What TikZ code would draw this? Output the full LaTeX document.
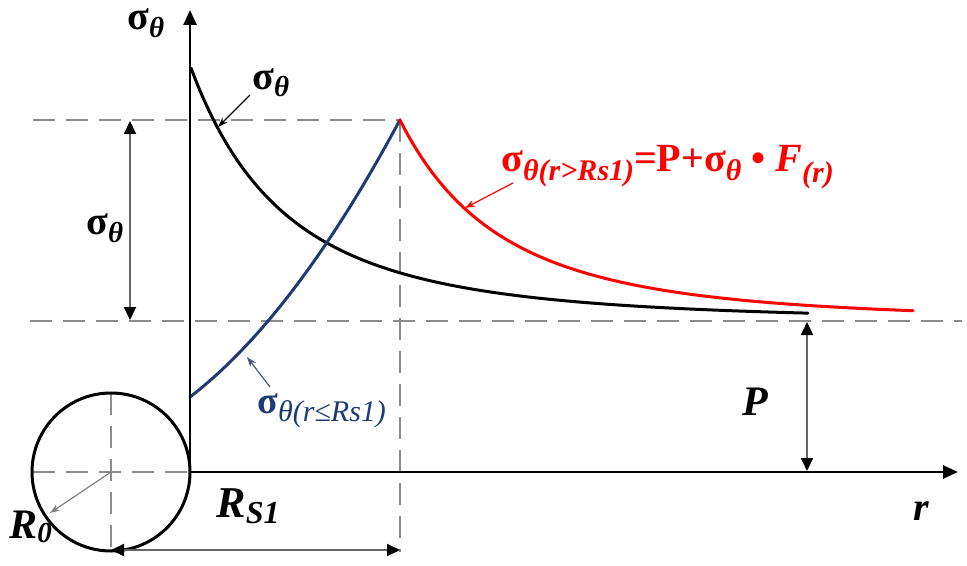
\documentclass[tikz,border=0pt]{standalone}
\usepackage{fontspec}
\setmainfont{Liberation Serif}
\usetikzlibrary{arrows.meta}
\definecolor{navy}{HTML}{1F3B73}
\definecolor{navyarrow}{HTML}{4A5A7A}
\definecolor{dashgray}{HTML}{8C8C8C}
\newcommand{\myfs}[1]{\fontsize{#1}{#1}\selectfont}
\begin{document}
\begin{tikzpicture}[x=0.5pt,y=-0.5pt,
  axis/.style={line width=1.25pt, -{Triangle[length=7.5pt,width=6.5pt]}},
  dim/.style={line width=1pt, draw=black!60, {Triangle[length=6.5pt,width=6pt,color=black]}-{Triangle[length=6.5pt,width=6pt,color=black]}},
  guide/.style={draw=dashgray, line width=1pt, dash pattern=on 11pt off 5.5pt},
  curve/.style={line width=1.5pt, line join=round, line cap=round},
  ptr/.style={line width=0.6pt, -{Stealth[length=5pt,width=3.5pt]}},
  lbl/.style={inner sep=0pt, anchor=base west, font=\bfseries}]
\useasboundingbox (0,0) rectangle (967,566);

% coordinates
\coordinate (O) at (190,472);
\coordinate (Ytop) at (190,10);
\coordinate (Xend) at (958,472);
\coordinate (Cc) at (111,472);
\coordinate (Cl) at (33,472);
\coordinate (Ct) at (111,393);
\coordinate (Cb) at (111,551);
\coordinate (Peak) at (400,120);
\coordinate (Gl1) at (33,120);
\coordinate (Gb1) at (400,552);
\coordinate (Gl2) at (30,321);
\coordinate (Gr2) at (962,321);
\coordinate (S1) at (130,121);
\coordinate (S2) at (130,320);
\coordinate (P1) at (807,322);
\coordinate (P2) at (807,471);
\coordinate (R1) at (111,550);
\coordinate (R2) at (400,550);
\coordinate (R0t) at (50,513);

% dashed guides
\draw[guide] (Gl1) -- (Peak);
\draw[guide] (Peak) -- (Gb1);
\draw[guide] (Gl2) -- (Gr2);
\draw[guide] (Cl) -- (O);
\draw[guide] (Ct) -- (Cb);

% circle
\draw[curve] (Cc) circle[radius=79];
\draw[line width=0.6pt, draw=gray, -{Stealth[length=5pt,width=3.5pt]}] (Cc) -- (R0t);

% dimension arrows
\draw[dim] (S1) -- (S2);
\draw[dim] (P1) -- (P2);
\draw[dim] (R1) -- (R2);

% curves
\draw[curve] plot[domain=191:808, samples=120, smooth] (\x, {321 - 253*(283/(\x+92))^3});
\draw[curve, navy] plot[domain=0:210, samples=60, smooth] ({190+\x}, {397 - (0.7693*\x + 0.002617*\x*\x)});
\draw[curve, red] plot[domain=400:913, samples=120, smooth] (\x, {321 - 201*(303/(\x-97))^3});

% axes
\draw[axis] (O) -- (Ytop);
\draw[axis] (O) -- (Xend);

% labels
\node[lbl, text height=10pt] (lax) at (127,30) {\myfs{20}σ\raisebox{-4pt}{\myfs{14.5}\itshape θ}};
\node[lbl] (lblack) at (252,90) {\myfs{20}σ\raisebox{-3.5pt}{\myfs{14.5}\itshape θ}};
\node[lbl] (lleft) at (86,235) {\myfs{20}σ\raisebox{-4pt}{\myfs{14.5}\itshape θ}};
\node[lbl, red] (lred) at (501,172) {\myfs{20}σ\raisebox{-4.5pt}{\myfs{15}\itshape θ(r>Rs1)}=P+σ\raisebox{-4.5pt}{\myfs{15}\itshape θ}\ •\ {\itshape F}\raisebox{-5.5pt}{\myfs{15}\itshape (r)}};
\node[lbl, navy] (lblue) at (257,413) {\myfs{19}σ\raisebox{-4pt}{\myfs{15}\mdseries\itshape θ(r≤Rs1)}};
\node[lbl] (lrs) at (216,517) {\myfs{22}\itshape R\raisebox{-3pt}{\myfs{16}S1}};
\node[lbl] (lr0) at (9,538) {\myfs{21}\itshape R\raisebox{-2pt}{\myfs{14.5}0}};
\node[lbl] (lp) at (742,415) {\myfs{21}\itshape P};
\node[lbl] (lr) at (913,520) {\myfs{20}\itshape r};

% label pointers
\coordinate (pb1) at (250,95);
\coordinate (pb2) at (218,127);
\coordinate (pr1) at (513,183);
\coordinate (pr2) at (465,208);
\coordinate (pn1) at (270,387);
\coordinate (pn2) at (247,357);
\draw[ptr] (pb1) -- (pb2);
\draw[ptr, red] (pr1) -- (pr2);
\draw[ptr, navyarrow] (pn1) -- (pn2);
\end{tikzpicture}
\end{document}
